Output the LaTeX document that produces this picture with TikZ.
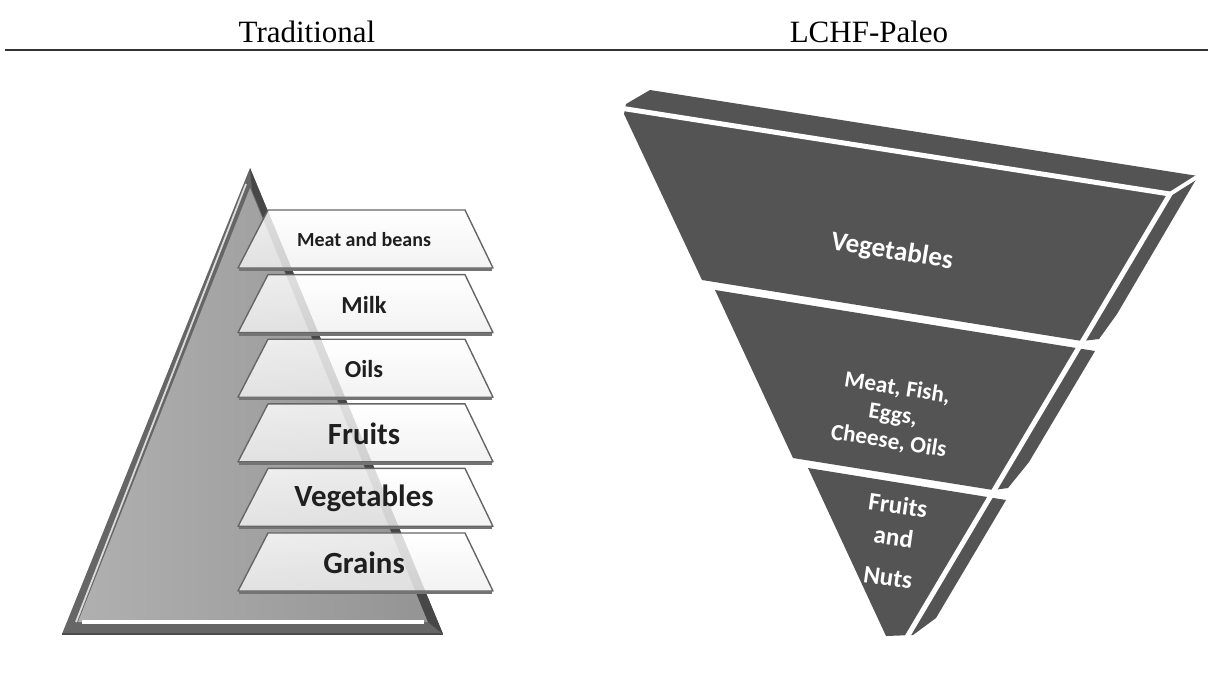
\documentclass[tikz,border=0pt]{standalone}
\usepackage{fontspec}
\setmainfont{Liberation Serif}
\newfontfamily\labelfont{Carlito}
\newcommand{\fsz}[1]{\fontsize{#1}{#1}\selectfont}
\begin{document}
\begin{tikzpicture}[x=0.5pt, y=-0.5pt, line join=round,
  slab/.style={fill=black!67},
  gap/.style={white, line width=2.5pt},
  lchf/.style={text=white, rotate=-9, align=center}]
  \useasboundingbox (0,0) rectangle (1208,682);
  % titles and rule
  \node[anchor=base, font=\fsz{15.5}] (tradtitle) at (307,42) {Traditional};
  \node[anchor=base, font=\fsz{15.5}] (lchftitle) at (869,42) {LCHF-Paleo};
  \draw[line width=1.1pt, black!80] (5,50) -- (1208,50);

  % traditional pyramid
  \fill[black!60] (250,168) -- (443,634) -- (62,634) -- cycle;
  \shade[left color=black!31, right color=black!42] (250,188) -- (428,622) -- (78,622) -- cycle;
  \fill[black!72] (250,168) -- (443,634) -- (428,622) -- (252,190) -- cycle;
  \draw[black!14, line width=0.9pt] (246,184) -- (76,622);
  \draw[white, line width=1.8pt] (82,622) -- (424,622);
  \draw[black!70, line width=1.2pt] (62,634) -- (443,634);
  \foreach \lbl/\fs [count=\i from 0] in {Meat and beans/10, Milk/12.2, Oils/12.2, Fruits/15.4, Vegetables/15.4, Grains/15.4} {
    \pgfmathsetmacro\yt{210+64.6*\i}
    \shade[top color=white, bottom color=black!6, fill opacity=0.82]
      (268,\yt) -- (465,\yt) -- (493,\yt+58) -- (238,\yt+58) -- cycle;
    \draw[black!60, line width=0.7pt] (268,\yt) -- (465,\yt) -- (493,\yt+58) -- (238,\yt+58) -- cycle;
    \draw[black!55, line width=1.4pt] (239,\yt+59.5) -- (492,\yt+59.5);
    \node[font=\labelfont\bfseries\fsz{\fs}, text=black!88] (band\i) at (364,\yt+30) {\lbl};
  }

  % LCHF-Paleo pyramid
  \fill[slab] (702,280) -- (624,114) -- (626,104) -- (650,90) -- (1198,176) -- (1117,314) -- (1099,339) -- (1082,341) -- cycle;
  \fill[slab] (715,290) -- (1095,351) -- (1029,462) -- (1008,488) -- (993,490) -- (793,458) -- cycle;
  \fill[slab] (808,468) -- (1006,500) -- (936,618) -- (913,635) -- (886,636) -- cycle;
  \draw[gap] (620,108) -- (1170,194);
  \draw[gap, line width=2pt] (1170,194) -- (1200,175);
  \draw[gap] (1170,194) -- (907,637);
  \node[lchf, font=\labelfont\bfseries\fsz{13.6}] (vegtext) at (892,252) {Vegetables};
  \node[lchf, font={\labelfont\bfseries\fontsize{11.6}{13.5}\selectfont}] (meattext) at (893,415) {Meat, Fish,\\Eggs,\\Cheese, Oils};
  \node[lchf, rotate=1, font={\labelfont\bfseries\fontsize{12.6}{15}\selectfont}] (fruittext) at (893,541) {Fruits\\[1pt]and\\[5.5pt]Nuts};
\end{tikzpicture}
\end{document}
